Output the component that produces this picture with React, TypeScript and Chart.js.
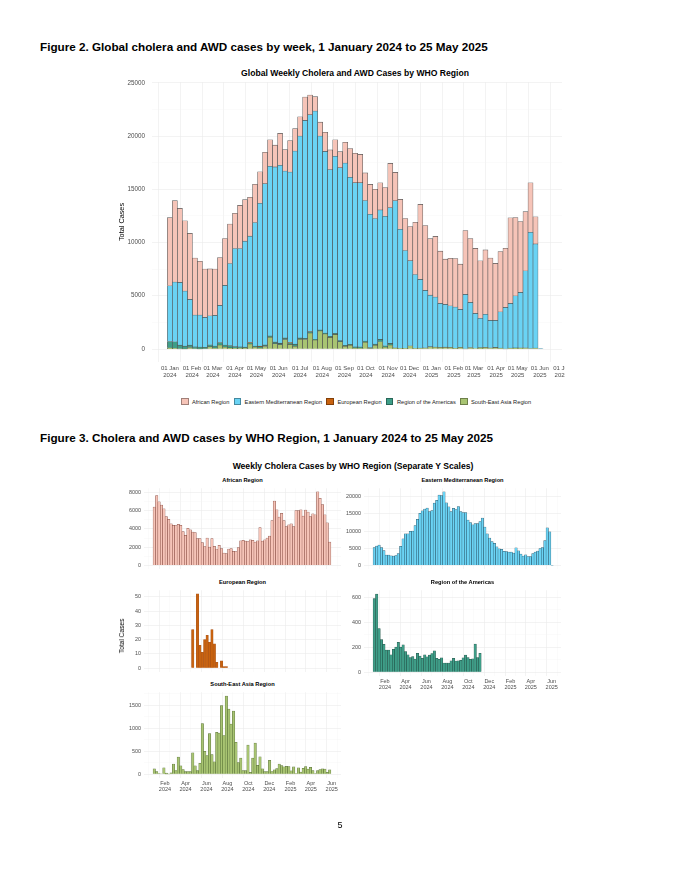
import React, { useEffect, useRef } from "react";
import { Chart, registerables } from "chart.js";

Chart.register(...registerables);

const FONT = "'Liberation Sans', Arial, Helvetica, sans-serif";
Chart.defaults.font.family = FONT;

// ---------------- data (weekly, weeks starting 1 Jan 2024) ----------------
const WEEK_COUNT = 75;
const MONTH_NAMES = ["Jan", "Feb", "Mar", "Apr", "May", "Jun", "Jul", "Aug", "Sep", "Oct", "Nov", "Dec"];

const african = [
  6400, 7650, 6950, 6600, 6200, 5350, 5050, 4550, 4400, 4350,
  4500, 4400, 3700, 3300, 4050, 3900, 3650, 3600, 2950, 2950,
  2500, 2050, 3000, 2000, 2950, 2100, 1800, 2200, 1850, 1350,
  1300, 1800, 1850, 1550, 1500, 1950, 2700, 2750, 2650, 2600,
  2800, 2750, 2550, 2700, 4150, 2650, 2800, 3000, 3200, 4900,
  7050, 6100, 5300, 5700, 4900, 4250, 4450, 4550, 4250, 6000,
  6000, 6100, 5400, 6050, 5850, 5350, 5650, 5550, 8050, 7350,
  6650, 5550, 4650, 2550,
];

const easternMediterranean = [
  5230, 5600, 5890, 5170, 4300, 2990, 3010, 2800, 2720, 2880,
  3480, 5590, 7710, 9220, 9240, 9950, 9980, 11590, 13410, 15150,
  15930, 16440, 16700, 15680, 16020, 18140, 18980, 20470, 20390, 21430,
  18230, 17070, 15670, 16610, 16250, 17130, 15680, 15430, 15410, 13190,
  12520, 11800, 12160, 12160, 12750, 13820, 11190, 9190, 8000, 6940,
  6440, 5380, 4840, 4690, 4130, 4020, 3900, 3870, 3560, 5110,
  4240, 3300, 2750, 3090, 2580, 2540, 3420, 3890, 4200, 4900,
  5200, 7240, 10930, 9780, 40,
];

const european = [
  null, null, null, null, null, null, null, null, null, null,
  null, null, null, null, null, null, 27, null, 52, 16,
  11, 20, 23, 18, 27, 17, 4, null, 5, 1,
  1,
];

const americas = [
  590, 626, 350, 261, 222, 177, 177, 138, 183, 201,
  240, 201, 219, 164, 138, 117, 125, 104, 151, 128,
  110, 138, 123, 136, 149, 170, 110, 102, 115, 73,
  73, 73, 91, 110, 89, 91, 94, 115, 136, 117,
  102, 107, 224, 117, 151,
];

const southEastAsia = [
  114, 57, 14, 7, 135, 21, 5, 28, 220, 78,
  370, 178, 100, 57, 57, 57, 462, 178, 78, 235,
  1102, 498, 405, 882, 427, 270, 910, 896, 1493, 839,
  1699, 1415, 1088, 1372, 690, 249, 348, 78, 78, 633,
  36, 348, 675, 192, 377, 114, 57, 57, 299, 57,
  92, 121, 220, 185, 156, 171, 164, 71, 156, 14,
  135, 43, 128, 164, 107, 149, 78, 14, 78, 100,
  114, 107, 36, 92,
];

const regionNames = [
  "African Region",
  "Eastern Mediterranean Region",
  "European Region",
  "Region of the Americas",
  "South-East Asia Region",
];
const regionSeries: (number | null)[][] = [african, easternMediterranean, european, americas, southEastAsia];
const regionColors = ["#F6C4B8", "#6AD3F4", "#C8620F", "#3E9E88", "#A8C472"];
const panelBorders = [
  "rgba(120,55,45,0.9)",
  "rgba(25,70,90,0.9)",
  "rgba(160,70,10,0.9)",
  "rgba(20,65,55,0.9)",
  "rgba(70,95,35,0.9)",
];
const panelSteps = [2000, 5000, 10, 200, 500];

// ---------------- derived scale helpers ----------------
const DAY = 86400000;
const T0 = Date.UTC(2024, 0, 1);
const weekDays = Array.from({ length: WEEK_COUNT }, (_, i) => i * 7);

function monthTicks(fromY: number, fromM: number, count: number) {
  const out: { day: number; m: number; y: number }[] = [];
  for (let k = 0; k < count; k++) {
    const y = fromY + Math.floor((fromM + k) / 12);
    const m = (fromM + k) % 12;
    out.push({ day: (Date.UTC(y, m, 1) - T0) / DAY, m, y });
  }
  return out;
}
const topMonths = monthTicks(2024, 0, 19);
const panelMonths = monthTicks(2024, 0, 18);

const TICK_COLOR = "#4d4d4d";
const GRID_MAJOR = "#ebebeb";
const GRID_MINOR = "#f4f4f4";

function valueTicks(step: number) {
  return (scale: any) => {
    const ticks: { value: number }[] = [];
    for (let k = 0; k * (step / 2) <= scale.max + 1e-9; k++) ticks.push({ value: k * (step / 2) });
    scale.ticks = ticks;
  };
}

// ---------------- chart configs ----------------
function topConfig(): any {
  const order = [4, 3, 2, 1, 0];
  const totals = weekDays.map((_, i) => regionSeries.reduce((s, arr) => s + (arr[i] ?? 0), 0));
  const maxT = Math.max(...totals);
  const step = 5000;
  return {
    type: "bar",
    data: {
      datasets: order.map((r) => ({
        label: regionNames[r],
        data: weekDays.map((d, i) => ({ x: d, y: regionSeries[r][i] ?? null })),
        backgroundColor: regionColors[r],
        borderColor: "rgba(60,60,60,0.85)",
        borderWidth: 0.6,
        barPercentage: 1,
        categoryPercentage: 1,
      })),
    },
    options: {
      animation: false,
      responsive: true,
      maintainAspectRatio: false,
      layout: { padding: { left: 6, right: 28, top: 22.3, bottom: 0 } },
      plugins: { legend: { display: false }, title: { display: false }, tooltip: { enabled: false } },
      scales: {
        x: {
          type: "linear",
          stacked: true,
          min: -25,
          max: 548,
          offset: false,
          afterBuildTicks: (scale: any) => {
            scale.ticks = topMonths.map((t) => ({ value: t.day }));
          },
          afterFit: (scale: any) => {
            scale.height = 28.3;
          },
          ticks: {
            autoSkip: false,
            maxRotation: 0,
            minRotation: 0,
            padding: 3,
            color: TICK_COLOR,
            font: { family: FONT, size: 6, lineHeight: 1.15 },
            callback: (_v: any, i: number) => {
              const t = topMonths[i];
              return t ? ["01 " + MONTH_NAMES[t.m], String(t.y)] : "";
            },
          },
          grid: { color: GRID_MAJOR, lineWidth: 0.6, drawTicks: false },
          border: { display: false },
        },
        y: {
          stacked: true,
          min: -0.05 * maxT,
          max: 1.05 * maxT,
          afterBuildTicks: valueTicks(step),
          afterFit: (scale: any) => {
            scale.width = 36;
          },
          ticks: {
            padding: 7,
            color: TICK_COLOR,
            font: { family: FONT, size: 6.3 },
            callback: (v: number) => (v % step === 0 ? String(v) : ""),
          },
          grid: {
            drawTicks: false,
            color: (ctx: any) => (ctx.tick && ctx.tick.value % step === 0 ? GRID_MAJOR : GRID_MINOR),
            lineWidth: (ctx: any) => (ctx.tick && ctx.tick.value % step === 0 ? 0.6 : 0.4),
          },
          border: { display: false },
          title: {
            display: true,
            text: "Total Cases",
            color: "#000",
            font: { family: FONT, size: 7.3 },
            padding: { top: 2, bottom: 0 },
          },
        },
      },
    },
  };
}

function panelConfig(r: number, showX: boolean): any {
  const values = regionSeries[r];
  const maxV = Math.max(...values.map((v) => v ?? 0));
  const step = panelSteps[r];
  return {
    type: "bar",
    data: {
      datasets: [
        {
          label: regionNames[r],
          data: weekDays.map((d, i) => ({ x: d, y: values[i] ?? null })),
          backgroundColor: regionColors[r],
          borderColor: panelBorders[r],
          borderWidth: 0.5,
          barPercentage: 1,
          categoryPercentage: 1,
        },
      ],
    },
    options: {
      animation: false,
      responsive: true,
      maintainAspectRatio: false,
      layout: { padding: { left: 0, right: 6, top: 4, bottom: 2 } },
      plugins: { legend: { display: false }, title: { display: false }, tooltip: { enabled: false } },
      scales: {
        x: {
          type: "linear",
          min: -30,
          max: 544,
          offset: false,
          afterBuildTicks: (scale: any) => {
            scale.ticks = panelMonths.map((t) => ({ value: t.day }));
          },
          afterFit: (scale: any) => {
            scale.height = showX ? 16 : 0;
          },
          ticks: {
            display: showX,
            autoSkip: false,
            maxRotation: 0,
            minRotation: 0,
            padding: 2,
            color: TICK_COLOR,
            font: { family: FONT, size: 5.5, lineHeight: 1.2 },
            callback: (_v: any, i: number) => {
              const t = panelMonths[i];
              return t && t.m % 2 === 1 ? [MONTH_NAMES[t.m], String(t.y)] : "";
            },
          },
          grid: {
            drawTicks: false,
            color: (ctx: any) => {
              const t = panelMonths[ctx.index];
              return t && t.m % 2 === 1 ? GRID_MAJOR : GRID_MINOR;
            },
            lineWidth: (ctx: any) => {
              const t = panelMonths[ctx.index];
              return t && t.m % 2 === 1 ? 0.6 : 0.4;
            },
          },
          border: { display: false },
        },
        y: {
          min: -0.05 * maxV,
          max: 1.05 * maxV,
          afterBuildTicks: valueTicks(step),
          afterFit: (scale: any) => {
            scale.width = 36;
          },
          ticks: {
            padding: 3,
            color: TICK_COLOR,
            font: { family: FONT, size: 5.4 },
            callback: (v: number) => (Math.abs(v % step) < 1e-9 ? String(v) : ""),
          },
          grid: {
            drawTicks: false,
            color: (ctx: any) => (ctx.tick && Math.abs(ctx.tick.value % step) < 1e-9 ? GRID_MAJOR : GRID_MINOR),
            lineWidth: (ctx: any) => (ctx.tick && Math.abs(ctx.tick.value % step) < 1e-9 ? 0.6 : 0.4),
          },
          border: { display: false },
        },
      },
    },
  };
}

// ---------------- layout ----------------
// plot-area boxes [left, top, right, bottom] in page pixels, per region index
const panelAreas: Record<number, number[]> = {
  0: [144, 486, 341, 573.3],
  1: [364, 486, 561, 573.3],
  2: [144, 588, 341, 676],
  3: [364, 588, 561, 676],
  4: [144, 690, 341, 778],
};
const panelShowX: Record<number, boolean> = { 0: false, 1: false, 2: false, 3: true, 4: true };

function ChartBox(props: {
  left: number;
  top: number;
  width: number;
  height: number;
  clipWidth?: number;
  make: () => any;
}) {
  const ref = useRef<HTMLCanvasElement>(null);
  useEffect(() => {
    const chart = new Chart(ref.current as HTMLCanvasElement, props.make());
    return () => chart.destroy();
  }, []);
  return (
    <div
      style={{
        position: "absolute",
        left: props.left,
        top: props.top,
        width: props.clipWidth ?? props.width,
        height: props.height,
        overflow: "hidden",
      }}
    >
      <div style={{ position: "relative", width: props.width, height: props.height }}>
        <canvas ref={ref} />
      </div>
    </div>
  );
}

function CenteredText(props: { x: number; y: number; size: number; bold?: boolean; children: React.ReactNode }) {
  return (
    <div
      style={{
        position: "absolute",
        left: props.x,
        top: props.y - props.size * 0.6,
        transform: "translateX(-50%)",
        fontSize: props.size,
        lineHeight: `${props.size * 1.2}px`,
        fontWeight: props.bold ? "bold" : "normal",
        whiteSpace: "nowrap",
        color: "#000",
      }}
    >
      {props.children}
    </div>
  );
}

export default function App() {
  const legendOrder = [0, 1, 2, 3, 4];
  return (
    <div
      style={{
        position: "absolute",
        left: 0,
        top: 0,
        width: 680,
        height: 880,
        background: "#fff",
        fontFamily: FONT,
        overflow: "hidden",
      }}
    >
      <div
        style={{
          position: "absolute",
          left: 40,
          top: 40,
          fontSize: 11.7,
          lineHeight: "14px",
          fontWeight: "bold",
          whiteSpace: "nowrap",
        }}
      >
        Figure 2. Global cholera and AWD cases by week, 1 January 2024 to 25 May 2025
      </div>

      <CenteredText x={355} y={73.3} size={8.6} bold>
        Global Weekly Cholera and AWD Cases by WHO Region
      </CenteredText>

      <ChartBox left={110} top={60} width={480} height={330} clipWidth={455} make={topConfig} />

      <div
        style={{
          position: "absolute",
          left: 181,
          top: 397.7,
          height: 8,
          display: "flex",
          alignItems: "center",
          fontSize: 5.7,
          whiteSpace: "nowrap",
          color: "#222",
        }}
      >
        {legendOrder.map((r) => (
          <div key={r} style={{ display: "flex", alignItems: "center", marginRight: 4.3 }}>
            <div
              style={{
                width: 7.5,
                height: 7.5,
                background: regionColors[r],
                border: "0.5px solid rgba(0,0,0,0.35)",
                marginRight: 3.5,
                boxSizing: "border-box",
              }}
            />
            <span>{regionNames[r]}</span>
          </div>
        ))}
      </div>

      <div
        style={{
          position: "absolute",
          left: 40,
          top: 431,
          fontSize: 11.7,
          lineHeight: "14px",
          fontWeight: "bold",
          whiteSpace: "nowrap",
        }}
      >
        Figure 3. Cholera and AWD cases by WHO Region, 1 January 2024 to 25 May 2025
      </div>

      <CenteredText x={353} y={466.5} size={8.6} bold>
        Weekly Cholera Cases by WHO Region (Separate Y Scales)
      </CenteredText>

      {[0, 1, 2, 3, 4].map((r) => {
        const [L, T, R, B] = panelAreas[r];
        const showX = panelShowX[r];
        return (
          <React.Fragment key={r}>
            <CenteredText x={(L + R) / 2} y={T - 5.5} size={5.7} bold>
              {regionNames[r]}
            </CenteredText>
            <ChartBox
              left={L - 36}
              top={T - 4}
              width={R - L + 36 + 6}
              height={B - T + 4 + (showX ? 16 : 0) + 2}
              make={() => panelConfig(r, showX)}
            />
          </React.Fragment>
        );
      })}

      <div
        style={{
          position: "absolute",
          left: 122,
          top: 636,
          transform: "translate(-50%, -50%) rotate(-90deg)",
          fontSize: 6.6,
          lineHeight: "8px",
          whiteSpace: "nowrap",
          color: "#000",
        }}
      >
        Total Cases
      </div>

      <CenteredText x={340} y={825} size={9}>
        5
      </CenteredText>
    </div>
  );
}
